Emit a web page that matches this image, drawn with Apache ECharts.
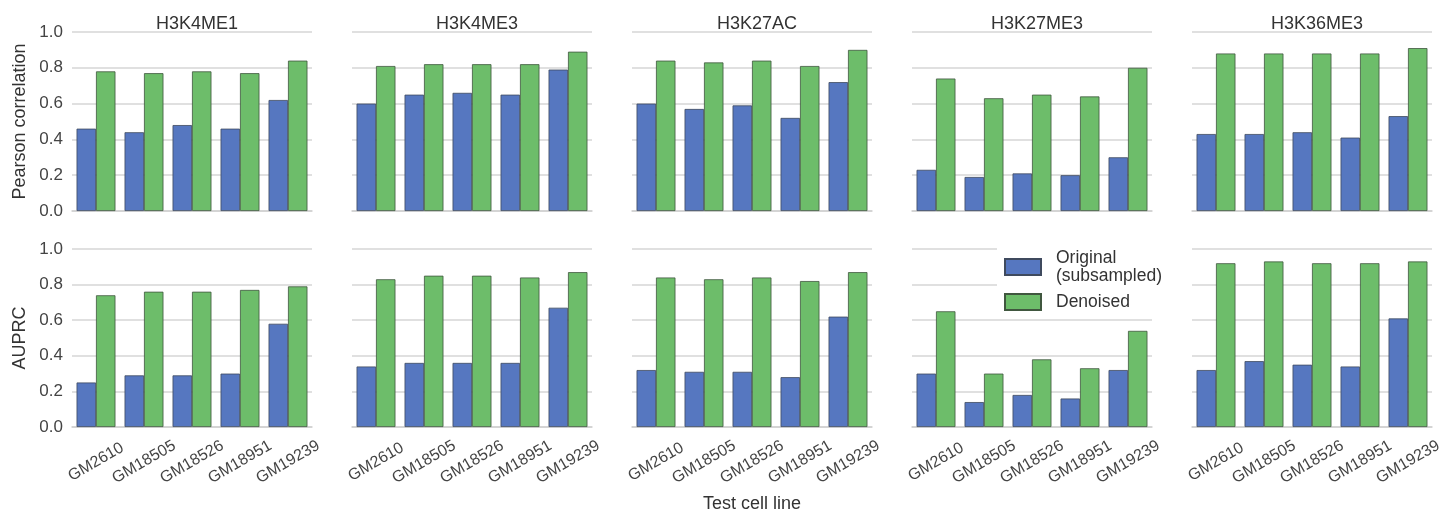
<!DOCTYPE html>
<html>
<head>
<meta charset="utf-8">
<script src="https://cdn.jsdelivr.net/npm/echarts@6/dist/echarts.min.js"></script>
<style>
  html, body { margin: 0; padding: 0; background: #fff; }
  #chart { width: 1442px; height: 510px; }
</style>
</head>
<body>
<div id="chart"></div>
<script>
// cell lines on the x axis
var cellLines = ['GM2610', 'GM18505', 'GM18526', 'GM18951', 'GM19239'];
var marks = ['H3K4ME1', 'H3K4ME3', 'H3K27AC', 'H3K27ME3', 'H3K36ME3'];
var yTicks = [0, 0.2, 0.4, 0.6, 0.8, 1.0];

// Pearson correlation (top row)
var pearsonOriginal = [
    [0.46, 0.44, 0.48, 0.46, 0.62],
    [0.60, 0.65, 0.66, 0.65, 0.79],
    [0.60, 0.57, 0.59, 0.52, 0.72],
    [0.23, 0.19, 0.21, 0.20, 0.30],
    [0.43, 0.43, 0.44, 0.41, 0.53]
];
var pearsonDenoised = [
    [0.78, 0.77, 0.78, 0.77, 0.84],
    [0.81, 0.82, 0.82, 0.82, 0.89],
    [0.84, 0.83, 0.84, 0.81, 0.90],
    [0.74, 0.63, 0.65, 0.64, 0.80],
    [0.88, 0.88, 0.88, 0.88, 0.91]
];

// AUPRC (bottom row)
var auprcOriginal = [
    [0.25, 0.29, 0.29, 0.30, 0.58],
    [0.34, 0.36, 0.36, 0.36, 0.67],
    [0.32, 0.31, 0.31, 0.28, 0.62],
    [0.30, 0.14, 0.18, 0.16, 0.32],
    [0.32, 0.37, 0.35, 0.34, 0.61]
];
var auprcDenoised = [
    [0.74, 0.76, 0.76, 0.77, 0.79],
    [0.83, 0.85, 0.85, 0.84, 0.87],
    [0.84, 0.83, 0.84, 0.82, 0.87],
    [0.65, 0.30, 0.38, 0.33, 0.54],
    [0.92, 0.93, 0.92, 0.92, 0.93]
];

var nameOrig = 'Original\n(subsampled)';
var nameDen = 'Denoised';
var blue = '#5677C0';
var green = '#6DBD6A';
var font = 'Liberation Sans';

var chart = echarts.init(document.getElementById('chart'));

var grids = [], xAxes = [], yAxes = [], series = [], titles = [];
var rowTop = [32, 249];
var rowHeight = [179, 178];
var yNames = ['Pearson correlation', 'AUPRC'];

for (var r = 0; r < 2; r++) {
    for (var c = 0; c < 5; c++) {
        var idx = r * 5 + c;
        var left = 72 + 280 * c;
        // fixed boxes, no auto shrinking for labels
        grids.push({ left: left, top: rowTop[r], width: 240, height: rowHeight[r], outerBoundsMode: 'none', containLabel: false });

        xAxes.push({
            type: 'category',
            gridIndex: idx,
            data: cellLines,
            axisLine: { show: true, lineStyle: { color: '#cfcfcf', width: 1.5 } },
            axisTick: { show: false },
            axisLabel: {
                show: r == 1,
                rotate: 30,
                interval: 0,
                align: 'center',
                verticalAlign: 'middle',
                fontSize: 16,
                fontFamily: font,
                color: '#444',
                margin: 35
            },
            name: (r == 1 && c == 2) ? 'Test cell line' : '',
            nameLocation: 'middle',
            nameGap: 68,
            nameTextStyle: { fontSize: 18, fontFamily: font, color: '#333' }
        });

        yAxes.push({
            type: 'value',
            gridIndex: idx,
            min: 0,
            max: 1,
            interval: 0.2,
            axisLine: { show: false },
            axisTick: { show: false },
            splitLine: { show: true, lineStyle: { color: '#d6d6d6', width: 1.5 } },
            axisLabel: {
                show: c == 0,
                fontSize: 17,
                fontFamily: font,
                color: '#444',
                margin: 9,
                formatter: function (v) { return v.toFixed(1); }
            },
            name: c == 0 ? yNames[r] : '',
            nameLocation: 'middle',
            nameRotate: 90,
            nameGap: 43,
            nameTextStyle: { fontSize: 18, fontFamily: font, color: '#333' }
        });

        var orig = r == 0 ? pearsonOriginal[c] : auprcOriginal[c];
        var den = r == 0 ? pearsonDenoised[c] : auprcDenoised[c];
        series.push({
            type: 'bar',
            name: nameOrig,
            xAxisIndex: idx,
            yAxisIndex: idx,
            data: orig,
            barGap: '0%',
            barCategoryGap: '19%',
            itemStyle: { color: blue, borderColor: '#3f4a5e', borderWidth: 0.8 }
        });
        series.push({
            type: 'bar',
            name: nameDen,
            xAxisIndex: idx,
            yAxisIndex: idx,
            data: den,
            barGap: '0%',
            barCategoryGap: '19%',
            itemStyle: { color: green, borderColor: '#40573f', borderWidth: 0.8 }
        });
    }
}

for (var t = 0; t < marks.length; t++) {
    titles.push({
        text: marks[t],
        left: 72 + 280 * t + 120,
        top: 10,
        textAlign: 'center',
        textStyle: { fontSize: 18, fontWeight: 'normal', fontFamily: font, color: '#333' }
    });
}

chart.setOption({
    animation: false,
    backgroundColor: '#fff',
    title: titles,
    legend: {
        data: [nameOrig, nameDen],
        orient: 'vertical',
        left: 997,
        top: 241,
        padding: [8, 8, 6, 7],
        icon: 'rect',
        itemWidth: 36,
        itemHeight: 16,
        itemGap: 8,
        backgroundColor: '#fff',
        textStyle: { fontSize: 17.5, fontFamily: font, color: '#333', padding: [0, 0, 0, 10], lineHeight: 18 }
    },
    grid: grids,
    xAxis: xAxes,
    yAxis: yAxes,
    series: series
});
</script>
</body>
</html>
